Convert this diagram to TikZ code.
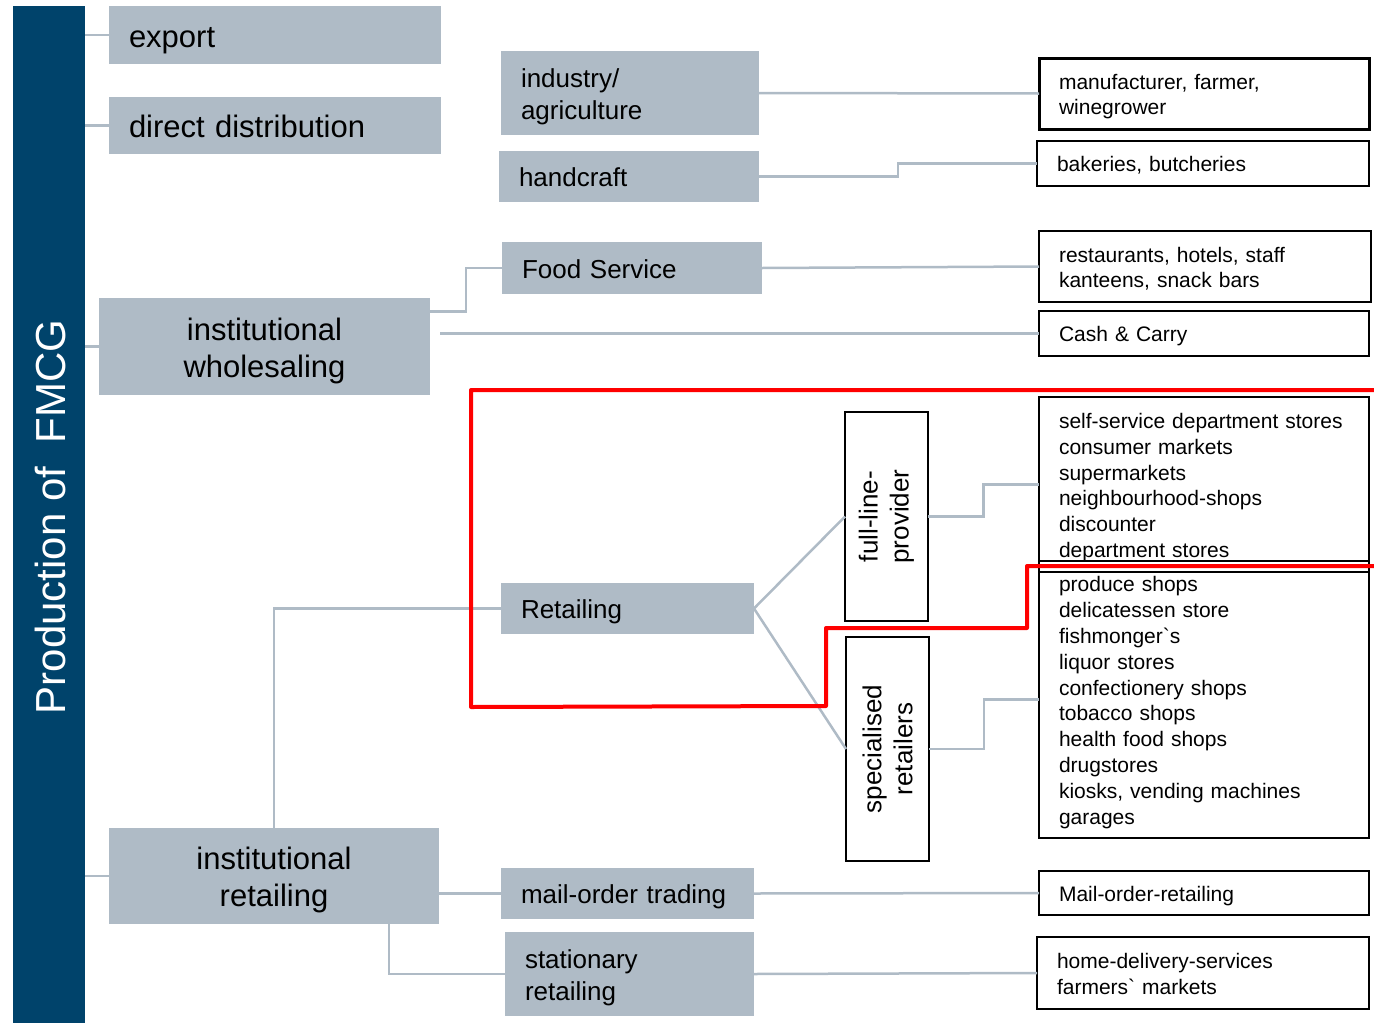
\documentclass[tikz,border=0pt]{standalone}
\usepackage{fontspec}
\setmainfont{Liberation Sans}
\usetikzlibrary{calc}
\definecolor{fmcgblue}{RGB}{0,67,107}
\definecolor{boxgray}{RGB}{175,187,198}
\tikzset{
  struts/.style={execute at begin node={\rule{0pt}{1.05em}}, execute at end node={\rule[-0.25em]{0pt}{0.25em}}},
  level/.style={fill=boxgray, anchor=north west, inner xsep=20pt, inner ysep=0pt, outer sep=0pt, align=left, struts},
  big/.style={font=\fontsize{31}{37}\selectfont},
  mid/.style={font=\fontsize{26}{32}\selectfont},
  outlet/.style={draw, line width=2pt, anchor=north west, inner xsep=20pt, inner ysep=0pt, outer sep=0pt, align=left, struts, font=\fontsize{21}{25.8}\selectfont},
  kind/.style={draw, line width=2pt, rotate=90, align=center, inner sep=0pt, outer sep=0pt, font=\fontsize{26}{31}\selectfont},
  link/.style={draw=boxgray, line width=2.5pt},
  elbow/.style={to path={-| ($(\tikztostart)!0.5!(\tikztotarget)$) |- (\tikztotarget)}},
}
\begin{document}
\begin{tikzpicture}[x=1pt, y=-1pt]
  \useasboundingbox (0,0) rectangle (1374,1023);
  % left bar
  \node[fill=fmcgblue, anchor=north west, minimum width=72pt, minimum height=1017pt, inner sep=0pt, outer sep=0pt] (bar) at (13,6) {};
  \node[rotate=90, text=white, font=\fontsize{42}{50}\selectfont] (title) at (50,517) {Production of\ \ FMCG};
  % first level
  \node[level, big, text width=292pt, minimum height=58pt] (export) at (109,6) {export};
  \node[level, big, text width=292pt, minimum height=57pt] (direct) at (109,97) {direct distribution};
  \node[level, big, align=center, text width=291pt, minimum height=97pt] (iw) at (99,298) {institutional\\wholesaling};
  \node[level, big, align=center, text width=290pt, minimum height=96pt] (ir) at (109,828) {institutional\\retailing};
  % second level
  \node[level, mid, text width=218pt, minimum height=84pt] (ind) at (501,51) {industry/\\agriculture};
  \node[level, mid, text width=220pt, minimum height=51pt] (hc) at (499,151) {handcraft};
  \node[level, mid, text width=220pt, minimum height=52pt] (fs) at (502,242) {Food Service};
  \node[level, mid, text width=213pt, minimum height=51pt] (ret) at (501,583) {Retailing};
  \node[level, mid, text width=213pt, minimum height=51pt] (mo) at (501,868) {mail-order trading};
  \node[level, mid, text width=209pt, minimum height=84pt] (st) at (505,932) {stationary\\retailing};
  % kinds of retailers (rotated: north is on the left)
  \node[kind, minimum width=209pt, minimum height=83pt] (fl) at (886.5,516.5) {full-line-\\provider};
  \node[kind, minimum width=224pt, minimum height=83pt] (sp) at (887.5,749) {specialised\\retailers};
  % outlets
  \node[outlet, line width=3pt, text width=290pt, minimum height=71pt] (mf) at (1039,58) {manufacturer, farmer,\\winegrower};
  \node[outlet, text width=292pt, minimum height=45pt] (bak) at (1037,141) {bakeries, butcheries};
  \node[outlet, text width=292pt, minimum height=71pt] (rest) at (1039,231) {restaurants, hotels, staff\\kanteens, snack bars};
  \node[outlet, text width=290pt, minimum height=45pt] (cc) at (1039,311) {Cash \& Carry};
  \node[outlet, text width=290pt, minimum height=175pt] (ss) at (1039,397) {self-service department stores\\consumer markets\\supermarkets\\neighbourhood-shops\\discounter\\department stores};
  \node[outlet, text width=290pt, minimum height=277pt] (ps) at (1039,561) {produce shops\\delicatessen store\\fishmonger\textasciigrave s\\liquor stores\\confectionery shops\\tobacco shops\\health food shops\\drugstores\\kiosks, vending machines\\garages};
  \node[outlet, text width=290pt, minimum height=44pt] (mor) at (1039,871) {Mail-order-retailing};
  \node[outlet, text width=292pt, minimum height=72pt] (hd) at (1037,937) {home-delivery-services\\farmers\textasciigrave{} markets};
  % connectors
  \draw[link] (export.west -| bar.east) -- (export.west);
  \draw[link] (direct.west -| bar.east) -- (direct.west);
  \draw[link] (iw.west -| bar.east) -- (iw.west);
  \draw[link] (ir.west -| bar.east) -- (ir.west);
  \draw[link] (ind.east) -- (mf.west);
  \draw[link] (hc.east) to[elbow] (bak.west);
  \draw[link] ([yshift=35pt]iw.east) to[elbow] (fs.west);
  \draw[link] ($(iw.east |- cc.west)+(10,0)$) -- (cc.west);
  \draw[link] (fs.east) -- (rest.west);
  \draw[link] (ir.north) |- (ret.west);
  \draw[link] (ret.east) -- (fl.north);
  \draw[link] (ret.east) -- (sp.north);
  \draw[link] (fl.south) to[elbow] (ss.west);
  \draw[link] (sp.south) to[elbow] (ps.west);
  \draw[link] (ir.east |- mo.west) -- (mo.west);
  \draw[link] ([xshift=115pt]ir.south) |- (st.west);
  \draw[link] (mo.east) -- (mor.west);
  \draw[link] (st.east) -- (hd.west);
  % red frame
  \draw[red, line width=4pt, line join=round] (1374,390) -- (471,390) -- (471,707) -- (826,706) -- (826,628) -- (1027,628) -- (1027,566) -- (1374,566);
\end{tikzpicture}
\end{document}
